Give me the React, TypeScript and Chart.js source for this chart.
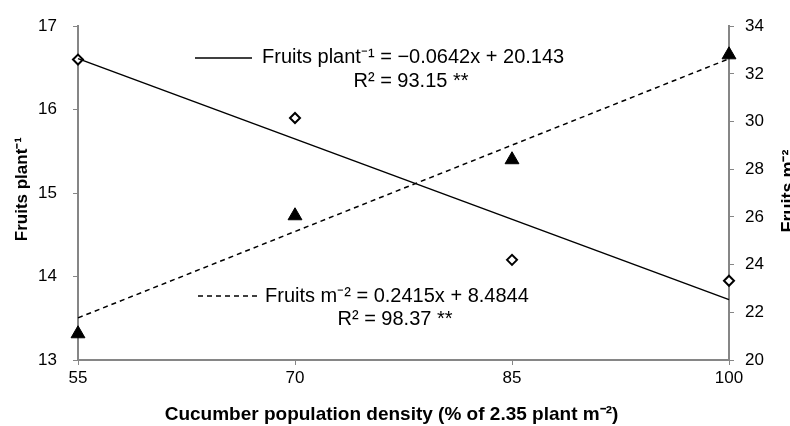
import React, { useEffect, useRef } from "react";
import { Chart, registerables } from "chart.js";

Chart.register(...registerables);

// ---- data ----
const densityTicks = [55, 70, 85, 100];
const density = [55, 70, 85, 100];
const fruitsPerPlant = [16.6, 15.9, 14.2, 13.95];
const fruitsPerM2 = [21.1, 26.05, 28.4, 32.8];
const plantFitCoef = [-0.0642, 20.143]; // slope, intercept
const m2FitCoef = [0.2415, 8.4844];
const leftTicks = [13, 14, 15, 16, 17];
const rightTicks = [20, 22, 24, 26, 28, 30, 32, 34];

const xTitle = "Cucumber population density (% of 2.35 plant m\u207B\u00B2)";
const yTitle = "Fruits plant\u207B\u00B9";
const y2Title = "Fruits m\u207B\u00B2";
const eq1 = "Fruits plant\u207B\u00B9 = \u22120.0642x + 20.143";
const r1 = "R\u00B2 = 93.15 **";
const eq2 = "Fruits m\u207B\u00B2 = 0.2415x + 8.4844";
const r2 = "R\u00B2 = 98.37 **";

const FONT = '"Liberation Sans", Arial, Helvetica, sans-serif';
const AXIS = "#868686";

const fitLine = (coef: number[]) =>
  [density[0], density[density.length - 1]].map((x) => ({ x, y: coef[0] * x + coef[1] }));

const textPlugin = {
  id: "texts",
  afterDraw(chart: any) {
    const { ctx, chartArea } = chart;
    ctx.save();
    ctx.fillStyle = "#000";
    ctx.strokeStyle = "#000";
    // x title
    ctx.font = `bold 19px ${FONT}`;
    ctx.textAlign = "center";
    ctx.textBaseline = "alphabetic";
    ctx.fillText(xTitle, (chartArea.left + chartArea.right) / 2 - 12, 420);
    // left y title
    ctx.save();
    ctx.translate(27, (chartArea.top + chartArea.bottom) / 2 - 4);
    ctx.rotate(-Math.PI / 2);
    ctx.font = `bold 17px ${FONT}`;
    ctx.fillText(yTitle, 0, 0);
    ctx.restore();
    // right y title
    ctx.save();
    ctx.translate(794, (chartArea.top + chartArea.bottom) / 2 - 2);
    ctx.rotate(-Math.PI / 2);
    ctx.font = `bold 18px ${FONT}`;
    ctx.fillText(y2Title, 0, 0);
    ctx.restore();

    // annotations
    ctx.font = `20px ${FONT}`;
    ctx.textAlign = "left";
    ctx.textBaseline = "middle";
    ctx.lineWidth = 1.5;
    ctx.setLineDash([]);
    ctx.beginPath();
    ctx.moveTo(195, 58);
    ctx.lineTo(252, 58);
    ctx.stroke();
    ctx.fillText(eq1, 262, 57);
    ctx.textAlign = "center";
    ctx.fillText(r1, 411, 81);

    ctx.setLineDash([5, 4]);
    ctx.beginPath();
    ctx.moveTo(198, 296);
    ctx.lineTo(258, 296);
    ctx.stroke();
    ctx.setLineDash([]);
    ctx.textAlign = "left";
    ctx.fillText(eq2, 265, 296);
    ctx.textAlign = "center";
    ctx.fillText(r2, 395, 319);
    ctx.restore();
  },
};

export default function App() {
  const ref = useRef<HTMLCanvasElement>(null);
  useEffect(() => {
    if (!ref.current) return;
    const chart = new Chart(ref.current, {
      type: "scatter",
      data: {
        datasets: [
          {
            label: "fit plant",
            type: "line",
            data: fitLine(plantFitCoef),
            yAxisID: "y",
            borderColor: "#000",
            borderWidth: 1.5,
            pointRadius: 0,
            fill: false,
            clip: false,
          },
          {
            label: "fit m2",
            type: "line",
            data: fitLine(m2FitCoef),
            yAxisID: "y2",
            borderColor: "#000",
            borderWidth: 1.5,
            borderDash: [5, 4],
            pointRadius: 0,
            fill: false,
            clip: false,
          },
          {
            label: "Fruits plant-1",
            data: density.map((x, i) => ({ x, y: fruitsPerPlant[i] })),
            yAxisID: "y",
            pointStyle: "rectRot",
            pointRadius: 5,
            backgroundColor: "#fff",
            borderColor: "#000",
            borderWidth: 2,
            clip: false,
          },
          {
            label: "Fruits m-2",
            data: density.map((x, i) => ({ x, y: fruitsPerM2[i] })),
            yAxisID: "y2",
            pointStyle: "triangle",
            pointRadius: 8,
            backgroundColor: "#000",
            borderColor: "#000",
            borderWidth: 1,
            clip: false,
          },
        ],
      },
      options: {
        animation: false,
        responsive: false,
        devicePixelRatio: 1,
        layout: { padding: { top: 21, left: 0, right: 0, bottom: 0 } },
        plugins: { legend: { display: false }, tooltip: { enabled: false } },
        scales: {
          x: {
            type: "linear",
            min: 55,
            max: 100,
            afterBuildTicks: (s: any) => {
              s.ticks = densityTicks.map((v) => ({ value: v }));
            },
            afterFit: (s: any) => {
              s.height = 66;
            },
            grid: { drawOnChartArea: false, drawTicks: true, tickLength: 5, color: AXIS, lineWidth: 1 },
            border: { color: AXIS, width: 2 },
            ticks: { color: "#000", font: { family: FONT, size: 17 }, padding: 3, maxRotation: 0 },
          },
          y: {
            position: "left",
            min: 13,
            max: 17,
            afterBuildTicks: (s: any) => {
              s.ticks = leftTicks.map((v) => ({ value: v }));
            },
            afterFit: (s: any) => {
              s.width = 78;
            },
            grid: { drawOnChartArea: false, drawTicks: true, tickLength: 5, color: AXIS, lineWidth: 1 },
            border: { color: AXIS, width: 2 },
            ticks: { color: "#000", font: { family: FONT, size: 17 }, padding: 16 },
          },
          y2: {
            position: "right",
            min: 20,
            max: 34,
            afterBuildTicks: (s: any) => {
              s.ticks = rightTicks.map((v) => ({ value: v }));
            },
            afterFit: (s: any) => {
              s.width = 61;
            },
            grid: { drawOnChartArea: false, drawTicks: true, tickLength: 5, color: AXIS, lineWidth: 1 },
            border: { color: AXIS, width: 2 },
            ticks: { color: "#000", font: { family: FONT, size: 17 }, padding: 11 },
          },
        },
      },
      plugins: [textPlugin],
    });
    return () => chart.destroy();
  }, []);
  return (
    <div style={{ position: "fixed", left: 0, top: 0, width: 790, height: 426, background: "#fff" }}>
      <canvas ref={ref} width={790} height={426} style={{ width: 790, height: 426 }} />
    </div>
  );
}
